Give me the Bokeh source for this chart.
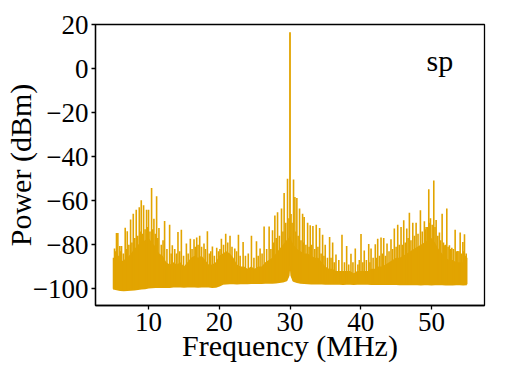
import numpy as np
from bokeh.plotting import figure
from bokeh.models import Range1d, FixedTicker, Label
from bokeh.embed import file_html
from bokeh.resources import INLINE

# ---- data ----
carrier_freq = [30.0]
carrier_power = [16.7]

# strong spurs (MHz, dBm)
spike_freq = [5.19, 5.47, 5.66, 5.94, 6.18, 6.70, 6.99, 7.46, 7.84, 8.26, 8.69, 8.97, 9.30, 9.72,
              10.0, 10.43, 10.76, 11.14, 11.47, 12.27, 12.98, 13.36, 14.16, 14.64, 15.35, 15.91,
              16.43, 16.81, 17.23, 17.84, 18.32, 19.03, 19.64, 20.30, 20.91, 21.52, 22.19, 22.71,
              23.37, 24.55, 25.26, 25.77, 26.34, 27.05, 27.53, 27.86, 28.24, 28.80, 29.17, 29.65,
              30.50, 30.69, 30.97, 31.35, 31.78, 32.00, 32.49, 32.86, 33.24, 33.71, 34.19, 34.61,
              34.98, 35.60, 36.03, 36.50, 37.35, 38.01, 38.62, 39.23, 40.04, 40.50, 41.13, 41.46,
              42.06, 42.40, 42.87, 43.25, 43.72, 44.28, 44.75, 45.23, 45.70, 46.08, 46.51, 46.88,
              47.36, 47.83, 48.44, 49.00, 49.24, 49.62, 49.86, 50.33, 50.66, 51.13, 51.51, 51.84,
              52.17, 52.54, 52.88, 53.35, 53.73, 54.06, 54.44, 54.67, 54.91]
spike_power = [-81.8, -74.7, -74.7, -80.6, -80.6, -72.3, -73.9, -68.6, -65.9, -64.1, -63.0, -59.8,
               -62.1, -64.1, -64.1, -54.2, -68.2, -58.0, -72.4, -69.2, -70.9, -80.3, -74.2, -73.2,
               -79.5, -77.3, -77.6, -76.8, -76.0, -79.5, -73.9, -80.8, -81.4, -77.3, -75.0, -76.0,
               -81.8, -75.5, -78.8, -76.0, -78.5, -81.8, -71.7, -71.7, -73.5, -66.7, -65.2, -63.6,
               -56.5, -50.0, -50.3, -58.3, -58.8, -63.6, -65.9, -67.4, -70.0, -71.2, -71.5, -70.9,
               -72.4, -75.5, -80.0, -76.5, -79.0, -84.5, -75.5, -80.6, -84.2, -81.8, -75.2, -82.7,
               -79.7, -81.8, -79.8, -77.3, -76.8, -77.0, -79.5, -77.6, -72.7, -70.9, -72.0, -68.9,
               -72.7, -65.5, -70.0, -70.0, -64.4, -69.4, -72.0, -54.8, -68.0, -50.8, -68.8, -74.5,
               -65.9, -80.3, -63.6, -80.3, -81.4, -73.2, -82.9, -74.5, -78.8, -75.3, -84.0]

# weaker spurs inside the dense part of the spectrum (MHz, dBm)
minor_freq = [5.05, 5.33, 5.57, 5.80, 6.06, 6.44, 6.85, 7.22, 7.65, 8.05, 8.47, 8.83, 9.13, 9.51,
              9.86, 10.20, 10.60, 10.95, 11.30, 11.80, 12.05, 12.60, 13.20, 13.70, 13.95, 14.40,
              14.95, 15.60, 16.15, 16.62, 17.00, 17.50, 18.05, 18.60, 18.80, 19.30, 19.90, 20.10,
              20.60, 21.20, 21.80, 22.45, 22.95, 23.70, 24.10, 24.90, 25.50, 26.05, 26.70, 27.30,
              27.70, 28.05, 28.50, 29.00, 29.40, 29.85, 30.15, 30.30, 30.83, 31.15, 31.55, 31.90,
              32.25, 32.70, 33.05, 33.50, 33.95, 34.40, 34.80, 35.30, 35.80, 36.25, 36.90, 37.70,
              38.30, 38.90, 39.60, 39.80, 40.30, 40.80, 41.30, 41.75, 42.25, 42.65, 43.05, 43.50,
              44.00, 44.50, 45.00, 45.45, 45.90, 46.30, 46.70, 47.10, 47.60, 48.10, 48.70, 49.12,
              49.43, 49.75, 50.10, 50.50, 50.90, 51.30, 51.70, 52.00, 52.35, 52.70, 53.10, 53.55,
              53.90, 54.25, 54.55, 54.80, 54.98]
minor_power = [-86, -83, -84, -85, -83, -84, -82, -80, -79, -77, -76, -74, -75, -73,
               -72, -74, -73, -75, -77, -80, -78, -82, -84, -82, -84, -83,
               -85, -84, -82, -81, -80, -81, -82, -84, -83, -85, -83, -82,
               -80, -79, -81, -83, -85, -85, -84, -86, -85, -84, -82, -82,
               -79, -77, -76, -74, -70, -68, -66, -70, -74, -76, -78, -79,
               -80, -81, -80, -82, -81, -84, -85, -86, -86, -88, -87, -88,
               -89, -88, -89, -87, -88, -87, -88, -86, -86, -85, -84, -85,
               -83, -82, -81, -80, -80, -79, -77, -78, -76, -75, -74, -73,
               -72, -70, -71, -72, -76, -78, -79, -80, -81, -82, -82, -83,
               -83, -84, -83, -85, -86]

band_freq = [5.0, 5.5, 6.0, 6.5, 7.0, 7.5, 8.0, 8.5, 9.0, 9.5, 10.0, 10.5, 11.0, 11.5, 12.0, 12.5,
             13.0, 13.5, 14.0, 14.5, 15.0, 15.5, 16.0, 16.5, 17.0, 17.5, 18.0, 18.5, 19.0, 19.5,
             20.0, 20.5, 21.0, 21.5, 22.0, 22.5, 23.0, 23.5, 24.0, 24.5, 25.0, 25.5, 26.0, 26.5,
             27.0, 27.5, 28.0, 28.5, 29.0, 29.5, 29.8, 29.95, 30.05, 30.2, 30.5, 31.0, 31.5, 32.0,
             32.5, 33.0, 33.5, 34.0, 34.5, 35.0, 35.5, 36.0, 36.5, 37.0, 37.5, 38.0, 38.5, 39.0,
             39.5, 40.0, 40.5, 41.0, 41.5, 42.0, 42.5, 43.0, 43.5, 44.0, 44.5, 45.0, 45.5, 46.0,
             46.5, 47.0, 47.5, 48.0, 48.5, 49.0, 49.5, 50.0, 50.5, 51.0, 51.5, 52.0, 52.5, 53.0,
             53.5, 54.0, 54.5, 55.0]
band_top = [-89, -86, -88, -87, -86, -84, -82, -80, -79, -78, -77, -79, -81, -84, -85, -88,
            -89, -88, -89, -88, -90, -88, -86, -85, -86, -85, -87, -89, -89, -88,
            -85, -84, -83, -84, -86, -89, -90, -90, -91, -90, -91, -90, -90, -88,
            -87, -86, -84, -82, -80, -78, -77, -76, -76, -78, -80, -82, -83, -84,
            -84, -85, -86, -86, -88, -90, -91, -91, -92, -92, -92, -92, -92, -93,
            -92, -92, -92, -92, -91, -91, -90, -90, -89, -88, -87, -86, -86, -85,
            -84, -83, -82, -81, -80, -79, -78, -77, -79, -82, -84, -86, -87, -87,
            -88, -88, -88, -89]
band_floor = [-100.0, -100.3, -100.6, -100.8, -100.6, -100.5, -100.4, -100.2, -100.0, -99.8, -99.5,
              -99.4, -99.3, -99.3, -99.2, -99.3,
              -99.3, -99.1, -99.0, -99.1, -99.2, -99.0, -99.0, -99.1, -99.2, -99.0, -99.0, -99.1,
              -99.3, -99.2,
              -98.6, -97.8, -97.7, -97.6, -97.6, -97.7, -97.6, -97.5, -97.6, -97.5, -97.5, -97.4,
              -97.5, -97.4,
              -97.4, -97.3, -97.2, -97.0, -96.8, -96.2, -94.0, -88.0, -88.0, -94.0, -96.5, -97.0,
              -97.3, -97.5,
              -97.6, -97.7, -97.7, -97.6, -97.7, -97.8, -97.7, -97.8, -97.7, -97.8, -97.9, -97.8,
              -97.8, -97.9,
              -97.8, -97.7, -97.8, -97.8, -97.9, -97.8, -97.9, -97.8, -97.9, -97.9, -97.8, -97.9,
              -98.0, -97.9,
              -98.0, -98.0, -97.9, -98.0, -98.1, -98.0, -98.0, -98.1, -98.0, -97.9, -98.0, -98.1,
              -98.0, -98.1,
              -98.0, -98.0, -98.1, -98.0]

x_ticks = [10, 20, 30, 40, 50]
y_ticks = [-100, -80, -60, -40, -20, 0, 20]
y_tick_labels = {-100: "\u2212100", -80: "\u221280", -60: "\u221260", -40: "\u221240",
                 -20: "\u221220", 0: "0", 20: "20"}

COLOR = "#E2A400"
FONT = "Liberation Serif"

p = figure(frame_width=389, frame_height=281, output_backend="svg", toolbar_location=None,
           x_range=Range1d(2.5, 57.5), y_range=Range1d(-107.7, 20.2),
           min_border_left=87, min_border_right=23, min_border_top=24, min_border_bottom=20)

# dense noise band
p.varea(x=band_freq, y1=band_floor, y2=band_top, fill_color=COLOR)
p.line(x=band_freq, y=band_floor, line_color=COLOR, line_width=2)

# spurs
minor_base = list(np.interp(minor_freq, band_freq, band_floor))
p.segment(x0=minor_freq, y0=minor_base, x1=minor_freq, y1=minor_power,
          line_color=COLOR, line_width=1.6)
spike_base = list(np.interp(spike_freq, band_freq, band_floor))
p.segment(x0=spike_freq, y0=spike_base, x1=spike_freq, y1=spike_power,
          line_color=COLOR, line_width=1.6)
p.segment(x0=carrier_freq, y0=[-90.0], x1=carrier_freq, y1=carrier_power,
          line_color=COLOR, line_width=1.8)

p.add_layout(Label(x=49.3, y=3.6, text="sp", text_font=FONT, text_font_size="30px",
                   text_color="black", text_baseline="alphabetic"))

p.grid.visible = False
p.outline_line_color = "black"
p.outline_line_width = 1.3
p.background_fill_color = "white"
p.border_fill_color = "white"

for ax in (p.xaxis[0], p.yaxis[0]):
    ax.axis_line_color = "black"
    ax.axis_line_width = 1.3
    ax.major_tick_line_color = "black"
    ax.major_tick_line_width = 1.3
    ax.major_tick_out = 4
    ax.major_tick_in = 0
    ax.minor_tick_line_color = None
    ax.major_label_text_font = FONT
    ax.major_label_text_font_size = "27px"
    ax.major_label_text_color = "black"
    ax.axis_label_text_font = FONT
    ax.axis_label_text_font_size = "30px"
    ax.axis_label_text_font_style = "normal"
    ax.axis_label_text_color = "black"
    ax.major_label_standoff = 3

p.xaxis.axis_label_standoff = -5
p.yaxis.axis_label_standoff = -7
p.xaxis.ticker = FixedTicker(ticks=x_ticks)
p.yaxis.ticker = FixedTicker(ticks=y_ticks)
p.yaxis.major_label_overrides = y_tick_labels
p.xaxis.axis_label = "Frequency (MHz)"
p.yaxis.axis_label = "Power (dBm)"

open("out.html", "w").write(file_html(p, INLINE))
